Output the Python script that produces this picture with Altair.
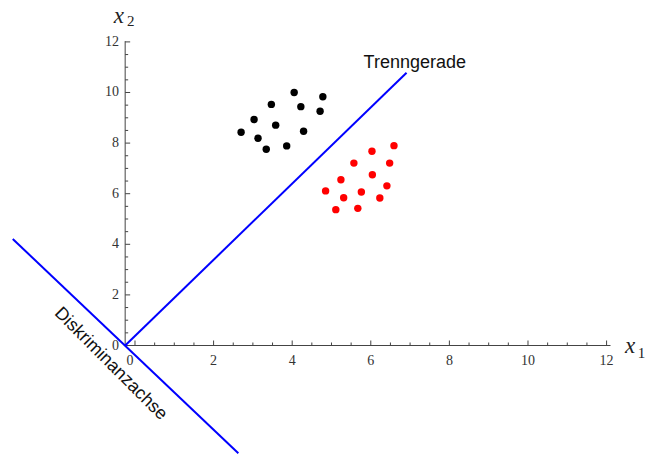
import altair as alt
import pandas as pd
import numpy as np

# ---- data ----
black_x = [4.05, 4.78, 3.47, 4.22, 4.71, 3.03, 3.58, 2.70, 4.29, 3.13, 3.34, 3.86]
black_y = [10.00, 9.83, 9.53, 9.44, 9.26, 8.93, 8.71, 8.43, 8.47, 8.19, 7.76, 7.89]
red_x = [6.59, 6.03, 5.57, 6.48, 6.04, 5.24, 6.41, 4.85, 5.76, 5.31, 6.23, 5.11, 5.67]
red_y = [7.90, 7.68, 7.21, 7.21, 6.75, 6.55, 6.31, 6.11, 6.07, 5.84, 5.83, 5.37, 5.42]

trenn_x = [-0.25, 6.91]
trenn_y = [0.0, 10.78]
disk_x = [-3.11, 2.63]
disk_y = [4.21, -4.26]

x_tick_labels = [2, 4, 6, 8, 10, 12]
y_tick_labels = [0, 2, 4, 6, 8, 10, 12]

# ---- scales ----
X_DOM = [-3.435, 13.003]
Y_DOM = [-4.328, 13.656]
XPX = 646 / (X_DOM[1] - X_DOM[0])
YPX = 455 / (Y_DOM[1] - Y_DOM[0])
AX0, AY0 = -0.25, 0.0

xs = alt.Scale(domain=X_DOM, nice=False, zero=False)
ys = alt.Scale(domain=Y_DOM, nice=False, zero=False)


def X(f):
    return alt.X(f, type="quantitative", scale=xs, axis=None)


def Y(f):
    return alt.Y(f, type="quantitative", scale=ys, axis=None)


# axis lines
axes_df = pd.DataFrame({"x": [AX0, AX0], "x2": [12.1, AX0], "y": [AY0, AY0], "y2": [AY0, 12.03]})
axes = alt.Chart(axes_df).mark_rule(color="#444444", strokeWidth=1).encode(
    x=X("x"), x2="x2", y=Y("y"), y2="y2")

# ticks
rows = []
for v in np.arange(0, 12.01, 0.5):
    L = 5 if v % 2 == 0 else 3
    rows.append({"x": v, "x2": v, "y": AY0, "y2": AY0 + L / YPX})
for v in np.arange(0.5, 12.01, 0.5):
    L = 5 if v % 2 == 0 else 3
    rows.append({"x": AX0, "x2": AX0 + L / XPX, "y": v, "y2": v})
ticks = alt.Chart(pd.DataFrame(rows)).mark_rule(color="#444444", strokeWidth=1).encode(
    x=X("x"), x2="x2", y=Y("y"), y2="y2")

serif = "Liberation Serif"
xlab_df = pd.DataFrame({"x": x_tick_labels, "y": [-0.61] * len(x_tick_labels),
                        "t": [str(v) for v in x_tick_labels]})
xlabels = alt.Chart(xlab_df).mark_text(font=serif, fontSize=14, color="#333333",
                                       align="center", baseline="middle").encode(
    x=X("x"), y=Y("y"), text="t:N")
x0_df = pd.DataFrame({"x": [0], "y": [-0.61], "t": ["0"]})
x0label = alt.Chart(x0_df).mark_text(font=serif, fontSize=14, color="#333333",
                                     align="center", baseline="middle", dx=-5).encode(
    x=X("x"), y=Y("y"), text="t:N")
ylab_df = pd.DataFrame({"x": [-0.41] * len(y_tick_labels), "y": y_tick_labels,
                        "t": [str(v) for v in y_tick_labels]})
ylabels = alt.Chart(ylab_df).mark_text(font=serif, fontSize=14, color="#333333",
                                       align="right", baseline="middle").encode(
    x=X("x"), y=Y("y"), text="t:N")

# axis titles
tx_df = pd.DataFrame({"x": [-0.41, 12.6], "y": [12.75, -0.30], "t": ["x", "x"]})
titles_x = alt.Chart(tx_df).mark_text(font=serif, fontSize=23, fontStyle="italic", color="#222222",
                                      align="center", baseline="alphabetic").encode(
    x=X("x"), y=Y("y"), text="t:N")
ts_df = pd.DataFrame({"x": [-0.11, 12.89], "y": [12.63, -0.49], "t": ["2", "1"]})
titles_s = alt.Chart(ts_df).mark_text(font=serif, fontSize=15, color="#222222",
                                      align="center", baseline="alphabetic").encode(
    x=X("x"), y=Y("y"), text="t:N")

# blue lines
lines_df = pd.DataFrame({"x": [trenn_x[0], disk_x[0]], "x2": [trenn_x[1], disk_x[1]],
                         "y": [trenn_y[0], disk_y[0]], "y2": [trenn_y[1], disk_y[1]]})
lines = alt.Chart(lines_df).mark_rule(color="#0000ff", strokeWidth=2, clip=True).encode(
    x=X("x"), x2="x2", y=Y("y"), y2="y2")

# points
pts_df = pd.DataFrame({"x": black_x + red_x, "y": black_y + red_y,
                       "c": ["A"] * len(black_x) + ["B"] * len(red_x)})
points = alt.Chart(pts_df).mark_circle(size=55, opacity=1).encode(
    x=X("x"), y=Y("y"),
    color=alt.Color("c:N", scale=alt.Scale(domain=["A", "B"], range=["#000000", "#ff0000"]), legend=None))

# annotations
trenn_lbl = alt.Chart(pd.DataFrame({"x": [7.12], "y": [10.97], "t": ["Trenngerade"]})).mark_text(
    font="Liberation Sans", fontSize=18, color="#111111", align="center", baseline="alphabetic").encode(
    x=X("x"), y=Y("y"), text="t:N")
disk_lbl = alt.Chart(pd.DataFrame({"x": [-0.62], "y": [-0.73], "t": ["Diskriminanzachse"]})).mark_text(
    font="Liberation Sans", fontSize=18, color="#111111", align="center", baseline="middle", angle=45).encode(
    x=X("x"), y=Y("y"), text="t:N")

chart = alt.layer(axes, ticks, xlabels, x0label, ylabels, titles_x, titles_s, lines, points,
                  trenn_lbl, disk_lbl).properties(
    width=646, height=455, padding=0, autosize=alt.AutoSizeParams(type="none")
).configure_view(stroke=None)

chart.save("out.html", embed_options={"renderer": "svg", "actions": False})
